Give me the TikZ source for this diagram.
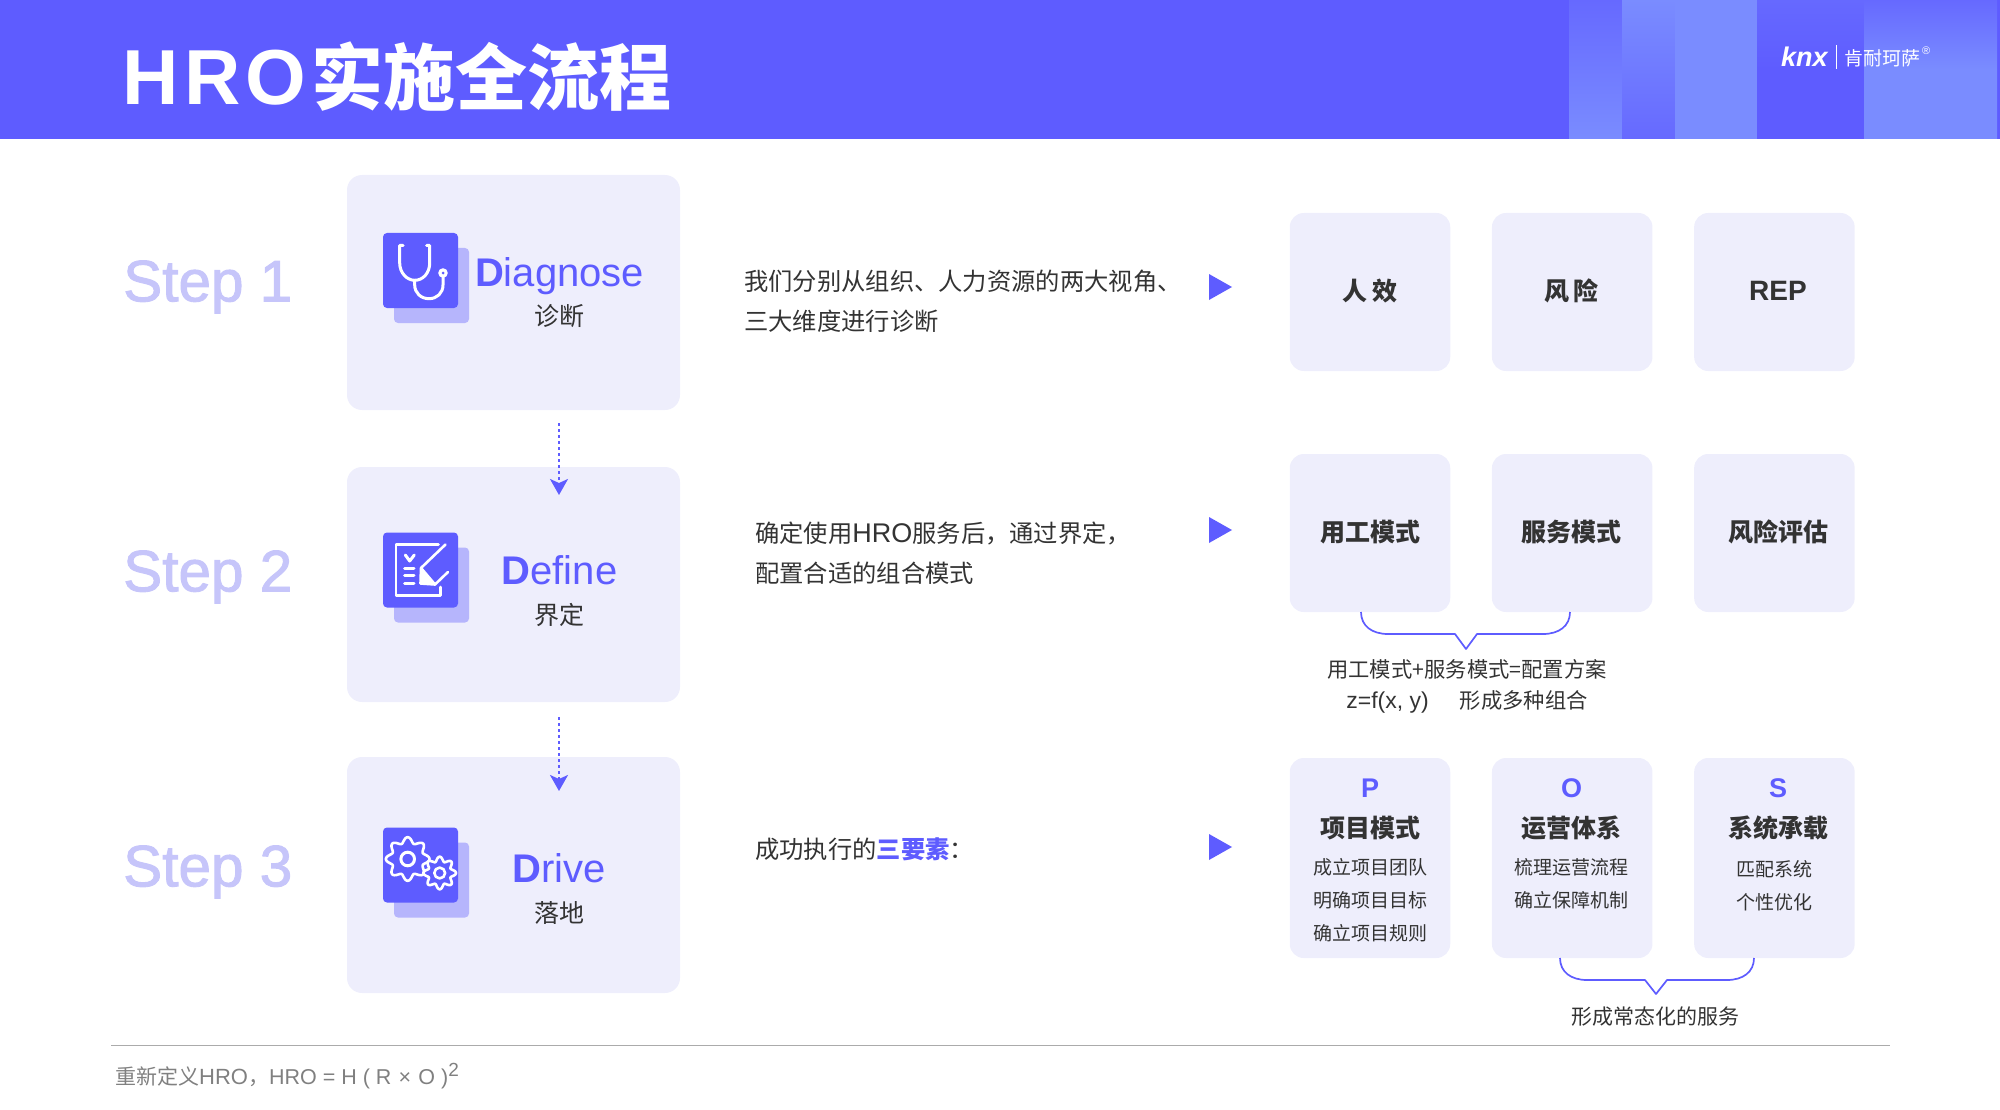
\documentclass[tikz,border=0pt]{standalone}
\usepackage{fontspec}
\setmainfont{Noto Sans CJK SC}
\newfontfamily\latin{Liberation Sans}
\newfontfamily\latinheavy[FakeBold=1.6]{Liberation Sans}
\usetikzlibrary{positioning,arrows.meta}
\definecolor{brand}    {HTML}{5E5CFF}
\definecolor{ink}      {HTML}{333333}
\definecolor{panel}    {HTML}{EEEEFC}
\definecolor{backing}  {HTML}{B6B5FC}
\definecolor{stepink}  {HTML}{C6C5FA}
\definecolor{softink}  {HTML}{808080}
\definecolor{ruleink}  {HTML}{ABABAB}
\definecolor{stripe}   {HTML}{7A8CFF}
\definecolor{stripedim}{HTML}{6669FF}
\newcommand{\fs}[2]{\fontsize{#1pt}{#2pt}\selectfont}
\tikzset{
  % --- nodes
  bigcard/.style = {rounded corners=15pt, fill=panel, inner sep=0pt, outer sep=0pt,
                    minimum width=333pt, minimum height=235pt},
  card/.style    = {rounded corners=14pt, fill=panel, inner sep=0pt, outer sep=0pt,
                    minimum width=160.5pt, minimum height=158pt},
  tallcard/.style= {card, minimum height=200pt},
  iconback/.style= {rounded corners=4pt, fill=backing, inner sep=0pt,
                    minimum width=75pt, minimum height=75pt},
  iconfront/.style={rounded corners=4pt, fill=brand, inner sep=0pt,
                    minimum width=75pt, minimum height=75pt},
  steplbl/.style = {font=\latinheavy\fs{58.5}{59}, text=stepink, anchor=west, inner sep=0pt},
  engl/.style    = {font=\latin\fs{40}{40}, text=brand, inner sep=0pt},
  zh/.style      = {font=\fs{25}{25}, text=ink, inner sep=0pt},
  body/.style    = {font=\fs{24.3}{40}, text=ink, align=left, anchor=west, inner sep=0pt},
  head/.style    = {font=\fs{25}{25}\bfseries, text=ink, inner sep=0pt},
  letter/.style  = {font=\latin\fs{27}{27}\bfseries, text=brand, inner sep=0pt},
  list/.style    = {font=\fs{19}{33}, text=ink, align=center, inner sep=0pt},
  note/.style    = {font=\fs{21.3}{31}, text=ink, align=center, inner sep=0pt},
  % --- edges
  flow/.style    = {-{Stealth[length=16pt,width=18pt,inset=4pt]}, draw=brand,
                    line width=2pt, dash pattern=on 3pt off 3pt},
  bracket/.style = {draw=brand, line width=1.7pt, line join=round},
  iconline/.style= {draw=white, line width=3pt, line cap=round, line join=round},
  iconthin/.style= {draw=white, line width=2.6pt, line cap=round, line join=round},
}
\begin{document}
\begin{tikzpicture}[x=1pt,y=-1pt]
  \useasboundingbox (0,0) rectangle (2000,1110);
  % --- header
  \fill[brand] (0,0) rectangle (2000,139);
  \shade[top color=stripedim,bottom color=stripe] (1569,0) rectangle (1622,139);
  \shade[top color=stripe,bottom color=stripedim] (1622,0) rectangle (1675,139);
  \fill[stripe] (1675,0) rectangle (1757,139);
  \shade[top color=stripedim,bottom color=brand,middle color=brand] (1757,0) rectangle (1864,139);
  \shade[top color=stripedim,bottom color=stripe,middle color=stripe] (1864,0) rectangle (1997,139);
  \node[anchor=west,inner sep=0pt,text=white,font=\fs{72}{72}\bfseries] (title) at (122.5,77)
    {{\latin\fs{78}{78}\addfontfeature{LetterSpace=6.5}HRO}\hspace{5pt}实施全流程};
  \node[anchor=west,inner sep=0pt,text=white,font=\latin\fs{27}{27}\bfseries\itshape] (logoa) at (1781,57) {knx};
  \draw[white,line width=1pt] (1836,45) -- (1836,69);
  \node[anchor=west,inner sep=0pt,text=white,font=\fs{19}{19}] (logob) at (1844,58) {肯耐珂萨};
  \node[anchor=west,inner sep=0pt,text=white,font=\latin\fs{11}{11}] (logoc) at (1922,51) {®};
  % --- step cards
  \node[bigcard] (diag) at (513.5,292.5) {};
  \node[bigcard,below=57pt of diag] (defn) {};
  \node[bigcard,below=55pt of defn,minimum height=236pt] (driv) {};
  \node[steplbl] (stepa) at (123,287) {Step 1};
  \node[steplbl] (stepb) at (123,577) {Step 2};
  \node[steplbl] (stepc) at (123,872) {Step 3};
  % --- icons
  \node[iconback] (backa) at (431.5,285.5) {};
  \node[iconfront] (icona) at (420.5,270.5) {};
  \node[iconback] (backb) at (431.5,585) {};
  \node[iconfront] (iconb) at (420.5,570) {};
  \node[iconback] (backc) at (431.5,880) {};
  \node[iconfront] (iconc) at (420.5,865) {};
  \begin{scope}[shift={(383,233)}]
    \draw[iconline] (20,12.5) -- (16.7,12.5) -- (16.7,30) .. controls (16.7,40) and (24,47.3) .. (31.7,47.3)
      .. controls (40,47.3) and (46.7,40) .. (46.7,30) -- (46.7,12.5) -- (43.5,12.5);
    \draw[iconline] (31.7,47.3) -- (31.7,52) .. controls (31.7,60) and (38,65.7) .. (46,65.7)
      .. controls (54,65.7) and (60,60) .. (60,52) -- (60,43);
    \fill[white] (60,40) circle (4.8);
    \fill[brand] (60,40) circle (1.5);
  \end{scope}
  \begin{scope}[shift={(383,532)}]
    \draw[iconthin] (55.5,12.5) -- (13,12.5) -- (13,63.5) -- (57.5,63.5) -- (57.5,55);
    \draw[iconline] (22.3,23) -- (26.7,29) -- (31.3,23);
    \draw[iconline] (21.5,36.3) -- (31,36.3);
    \draw[iconline] (21.5,43.5) -- (31,43.5);
    \draw[iconline] (21.5,51.3) -- (31,51.3);
    \draw[iconthin] (62.5,12.5) -- (38,36) -- (37.5,51.5) -- (52,52.5) -- (65,40);
    \draw[iconthin] (38,36) -- (52,52.5);
    \fill[white] (38,37) -- (37.5,51.5) -- (51,52.3) -- cycle;
  \end{scope}
  \begin{scope}[shift={(383+24.7,827+32)}]
    \draw[iconthin,fill=brand] plot[domain=0:360,samples=145,smooth] (\x:{19+2.8*cos(8*\x)}) -- cycle;
    \draw[iconline] (0,0) circle (6.8);
  \end{scope}
  \begin{scope}[shift={(383+56.7,827+46)}]
    \draw[iconthin,fill=brand] plot[domain=0:360,samples=145,smooth] (\x:{14+2.3*cos(8*\x)}) -- cycle;
    \draw[iconthin] (0,0) circle (5.4);
  \end{scope}
  % --- card labels
  \node[engl] (diagen) at (559.5,276) {\textbf{D}iagnose};
  \node[zh]   (diagzh) at (559,316) {诊断};
  \node[engl] (defnen) at (559.5,570) {\textbf{D}efine};
  \node[zh]   (defnzh) at (559,615) {界定};
  \node[engl] (driven) at (559,868) {\textbf{D}rive};
  \node[zh]   (drivzh) at (559,913) {落地};
  \coordinate (flowa) at (559,423);
  \coordinate (flowb) at (559,495);
  \coordinate (flowc) at (559,717);
  \coordinate (flowd) at (559,791);
  \draw[flow] (flowa) -- (flowb);
  \draw[flow] (flowc) -- (flowd);
  % --- middle column
  \node[body] (texta) at (744,301) {我们分别从组织、人力资源的两大视角、\\三大维度进行诊断};
  \node[body] (textb) at (755,553) {确定使用{\latin\fs{27}{40}HRO}服务后，通过界定，\\配置合适的组合模式};
  \node[body] (textc) at (755,849) {成功执行的{\bfseries\color{brand}三要素}：};
  \fill[brand] (1209,274) -- (1232,287) -- (1209,300) -- cycle;
  \fill[brand] (1209,517) -- (1232,530) -- (1209,543) -- cycle;
  \fill[brand] (1209,834) -- (1232,847) -- (1209,860) -- cycle;
  % --- right column
  \node[card] (rea) at (1370,292) {};
  \node[card,right=41.7pt of rea] (reb) {};
  \node[card,right=41.7pt of reb] (rec) {};
  \node[card,below=83pt of rea] (mda) {};
  \node[card,right=41.7pt of mda] (mdb) {};
  \node[card,right=41.7pt of mdb] (mdc) {};
  \node[tallcard,below=146pt of mda] (poa) {};
  \node[tallcard,right=41.7pt of poa] (pob) {};
  \node[tallcard,right=41.7pt of pob] (poc) {};
  \node[head] (reat) at (1370,291) {人\,效};
  \node[head] (rebt) at (1571.5,291) {风\,险};
  \node[head,font=\latin\fs{28}{28}\bfseries] (rect) at (1778,291) {REP};
  \node[head] (mdat) at (1370,532) {用工模式};
  \node[head] (mdbt) at (1571.5,532) {服务模式};
  \node[head] (mdct) at (1778,532) {风险评估};
  \node[letter] (pl) at (1370,788.5) {P};
  \node[letter] (ol) at (1571.5,788.5) {O};
  \node[letter] (sl) at (1778,788.5) {S};
  \node[head] (pt) at (1370,828) {项目模式};
  \node[head] (ot) at (1571.5,828) {运营体系};
  \node[head] (st) at (1778,828) {系统承载};
  \node[list] (pb) at (1370,900) {成立项目团队\\明确项目目标\\确立项目规则};
  \node[list] (ob) at (1571.5,883.5) {梳理运营流程\\确立保障机制};
  \node[list] (sb) at (1774,886) {匹配系统\\个性优化};
  % --- brackets
  \coordinate (braa) at (1361,612);
  \coordinate (brab) at (1570,612);
  \coordinate (brac) at (1560,958);
  \coordinate (brad) at (1754,958);
  \draw[bracket] (braa) .. controls +(0,14) and +(-16,0) .. ++(27,22) -- ++(67,0) -- ++(11,15) -- ++(11,-15)
    -- ++(66,0) .. controls +(16,0) and +(0,14) .. (brab);
  \draw[bracket] (brac) .. controls +(0,14) and +(-16,0) .. ++(27,22) -- ++(58,0) -- ++(11,14) -- ++(11,-14)
    -- ++(60,0) .. controls +(16,0) and +(0,14) .. (brad);
  \node[note] (notea) at (1467,686.5) {用工模式+服务模式=配置方案\\{\latin\fs{23}{31}z=f(x, y)}\hspace{31pt}形成多种组合};
  \node[note,font=\fs{21}{31}] (noteb) at (1655,1016.5) {形成常态化的服务};
  % --- footer
  \coordinate (rulea) at (111,1045);
  \coordinate (ruleb) at (1890,1045);
  \draw[ruleink,line width=1pt] (rulea) -- (ruleb);
  \node[anchor=west,inner sep=0pt,text=softink,font=\fs{21}{21}] (foot) at (115,1076)
    {重新定义{\latin\fs{22}{22}HRO}，{\latin\fs{21.5}{22}HRO = H ( R\,\,×\,\,O )\raisebox{8pt}{\fs{19}{20}2}}};
\end{tikzpicture}
\end{document}
